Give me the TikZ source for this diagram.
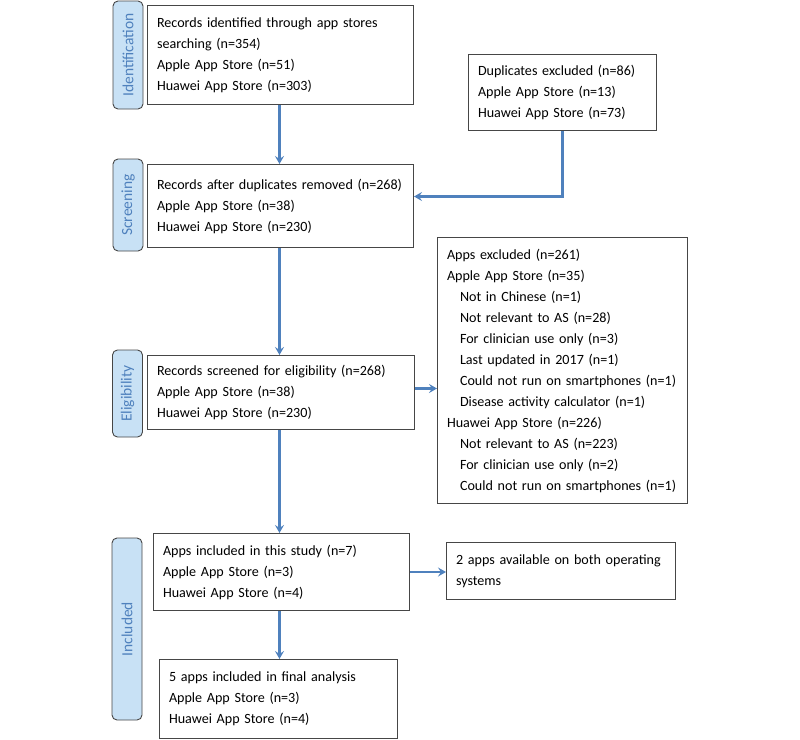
\documentclass[tikz,border=0pt]{standalone}
\usepackage{fontspec}
\setmainfont{Carlito}
\usetikzlibrary{arrows.meta}
\definecolor{arrowblue}{RGB}{79,129,189}
\definecolor{labelfill}{RGB}{200,225,245}
\definecolor{boxgray}{RGB}{70,70,70}
\begin{document}
\begin{tikzpicture}[x=1pt,y=-1pt,
  box/.style={draw=boxgray, line width=1pt, fill=white, align=left,
    inner xsep=9.5pt, inner ysep=0pt, anchor=north west,
    font=\fontsize{14.1}{21}\selectfont},
  lab/.style={draw=boxgray, line width=0.9pt, fill=labelfill, rounded corners=5pt,
    rotate=90, text=arrowblue, inner sep=0pt, minimum height=30pt,
    font=\fontsize{15.5}{17}\selectfont},
  flow/.style={draw=arrowblue, line width=2.2pt, -{Stealth[length=8pt,width=9pt,inset=3pt]}}]
\useasboundingbox (0,0) rectangle (800,739);
\newcommand{\ind}{\hspace*{13pt}}
% phase labels
\node[lab, minimum width=108pt] (lid) at (128,55) {Identification};
\node[lab, minimum width=92pt] (lsc) at (128,205) {Screening};
\node[lab, minimum width=87pt] (lel) at (127.5,393.5) {Eligibility};
\node[lab, minimum width=182pt] (lin) at (127,629) {Included};
% boxes
\node[box, text width=247pt, minimum height=99pt] (b1) at (147,5)
  {Records identified through app stores\\searching (n=354)\\Apple App Store (n=51)\\Huawei App Store (n=303)};
\node[box, text width=169pt, minimum height=76pt] (dup) at (468,54)
  {Duplicates excluded (n=86)\\Apple App Store (n=13)\\Huawei App Store (n=73)};
\node[box, text width=247pt, minimum height=83pt] (b2) at (147,164)
  {Records after duplicates removed (n=268)\\Apple App Store (n=38)\\Huawei App Store (n=230)};
\node[box, text width=248pt, minimum height=74pt] (b3) at (147,355)
  {Records screened for eligibility (n=268)\\Apple App Store (n=38)\\Huawei App Store (n=230)};
\node[box, text width=231pt, minimum height=266pt] (exc) at (437,237)
  {Apps excluded (n=261)\\Apple App Store (n=35)\\
   \ind Not in Chinese (n=1)\\\ind Not relevant to AS (n=28)\\
   \ind For clinician use only (n=3)\\\ind Last updated in 2017 (n=1)\\
   \ind Could not run on smartphones (n=1)\\\ind Disease activity calculator (n=1)\\
   Huawei App Store (n=226)\\\ind Not relevant to AS (n=223)\\
   \ind For clinician use only (n=2)\\\ind Could not run on smartphones (n=1)};
\node[box, text width=237pt, minimum height=77pt] (b4) at (153,533)
  {Apps included in this study (n=7)\\Apple App Store (n=3)\\Huawei App Store (n=4)};
\node[box, text width=210pt, minimum height=57pt] (apps2) at (446,542)
  {2 apps available on both operating\\systems};
\node[box, text width=219pt, minimum height=79pt] (b5) at (159,659)
  {5 apps included in final analysis\\Apple App Store (n=3)\\Huawei App Store (n=4)};
% connectors
\draw[flow] ([xshift=-1pt]b1.south) -- ([xshift=-1pt]b1.south |- b2.north);
\draw[flow] (dup.south) |- ([yshift=9.5pt]b2.east);
\draw[flow] ([xshift=-1pt]b2.south) -- ([xshift=-1pt]b2.south |- b3.north);
\draw[flow] ([yshift=4pt]b3.east) -- ([yshift=4pt]b3.east -| exc.west);
\draw[flow] ([xshift=-1.5pt]b3.south) -- ([xshift=-1.5pt]b3.south |- b4.north);
\draw[flow] (b4.east) -- (b4.east -| apps2.west);
\draw[flow] ([xshift=-2pt]b4.south) -- ([xshift=-2pt]b4.south |- b5.north);
\end{tikzpicture}
\end{document}
